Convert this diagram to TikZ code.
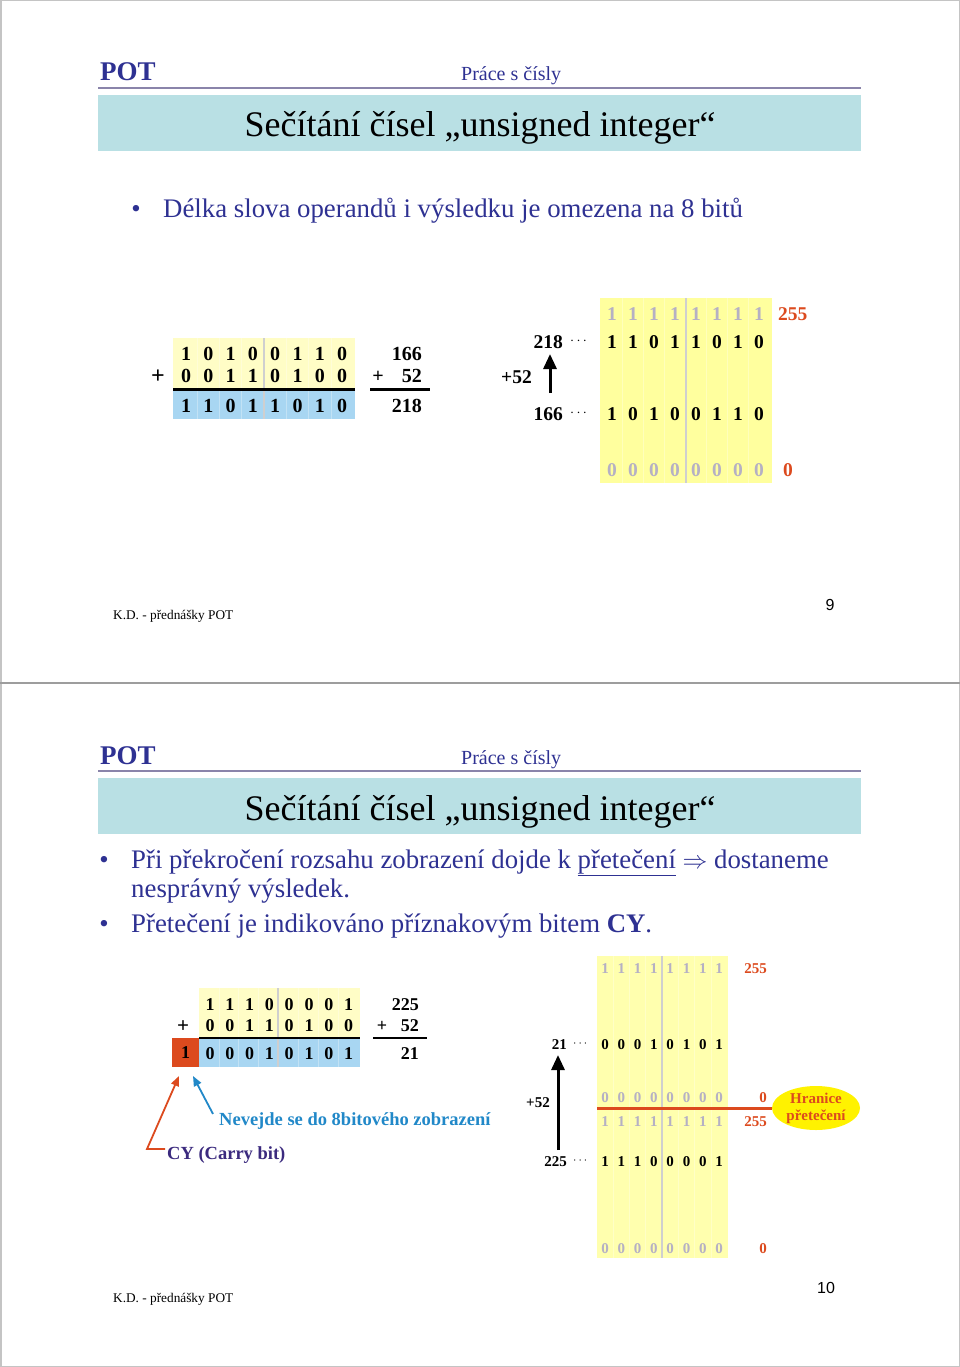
\documentclass[tikz,border=0pt]{standalone}
\usepackage{fontspec}
\setmainfont{Liberation Serif}
\newfontfamily\pagefont{Liberation Sans}
\usepackage{xcolor}
\usepackage{tikz}
\usetikzlibrary{arrows.meta, positioning, shapes.geometric}

\definecolor{potblue}{HTML}{2E3192}
\definecolor{bandteal}{HTML}{B9E0E4}
\definecolor{rulepurple}{HTML}{8A84AA}
\definecolor{paleyellow}{HTML}{FFFDC6}
\definecolor{bandyellow}{HTML}{FFFF9E}
\definecolor{lightyellow}{HTML}{FFFFAE}
\definecolor{paleblue}{HTML}{A8D6F2}
\definecolor{overred}{HTML}{DC4A1E}
\definecolor{carryblue}{HTML}{2188C8}
\definecolor{cyviolet}{HTML}{3B2A7E}
\definecolor{bitgray}{HTML}{B5B0C4}
\definecolor{divgray}{HTML}{CFCFCF}
\definecolor{framegray}{HTML}{C4C4C4}
\definecolor{ovalyellow}{HTML}{FFF200}

\begin{document}
\begin{tikzpicture}[x=1pt, y=-1pt,
    txt/.style={inner sep=0pt, anchor=base west},
    pot/.style={txt, font=\fontsize{27}{30}\selectfont\bfseries, text=potblue},
    topic/.style={txt, font=\fontsize{20}{24}\selectfont, text=potblue},
    heading/.style={inner sep=0pt, anchor=base, font=\fontsize{36}{40}\selectfont},
    item/.style={txt, font=\fontsize{26.8}{30}\selectfont, text=potblue},
    bullet/.style={inner sep=0pt, anchor=base, font=\fontsize{26.8}{30}\selectfont, text=potblue},
    footer/.style={txt, font=\fontsize{13.3}{15}\selectfont},
    pageno/.style={inner sep=0pt, anchor=base, font=\pagefont\fontsize{16}{18}\selectfont},
    bitL/.style={inner sep=0pt, anchor=base, font=\fontsize{20}{22}\selectfont\bfseries},
    bitR/.style={inner sep=0pt, anchor=base, font=\fontsize{19.5}{22}\selectfont\bfseries},
    bitC/.style={inner sep=0pt, anchor=base, font=\fontsize{18}{20}\selectfont\bfseries},
    bitS/.style={inner sep=0pt, anchor=base, font=\fontsize{15}{17}\selectfont\bfseries},
    dots/.style={inner sep=0pt, anchor=base west, font=\fontsize{15}{15}\selectfont},
    ghost/.style={text=bitgray},
    limit/.style={text=overred},
    sumrule/.style={line width=2.5pt},
    divider/.style={draw=divgray, line width=1.5pt},
    stripe/.style={draw=white, opacity=0.3, line width=0.8pt},
    bigarrow/.style={-{Triangle[length=15pt,width=13pt]}, line width=3pt},
    redarrow/.style={-{Triangle[length=10pt,width=8pt]}, line width=1.8pt, draw=overred},
    bluearrow/.style={-{Triangle[length=10pt,width=8pt]}, line width=1.8pt, draw=carryblue},
    oval/.style={ellipse, fill=ovalyellow, minimum width=88pt, minimum height=44pt, inner sep=0pt,
                 align=center, text=overred, font=\fontsize{15}{17}\selectfont\bfseries}
]
\useasboundingbox (0,0) rectangle (960,1367);
\draw[framegray, line width=1.5pt] (0.75,0.75) rectangle (959.25,1366.25);
\draw[framegray!80!black, line width=2pt] (0,683) -- (960,683);

% Slide 9
\node[pot] (pot1) at (100,81) {POT};
\node[topic] (topic1) at (461,81) {Práce s čísly};
\draw[rulepurple, line width=2pt] (98,88) -- (861,88);
\fill[bandteal] (98,95) rectangle (861,151);
\node[heading] (title1) at (480,137) {Sečítání čísel „unsigned integer“};
\node[bullet] (b1) at (136,217) {•};
\node[item] (item1) at (163,217) {Délka slova operandů i výsledku je omezena na 8 bitů};

% column addition
\fill[paleyellow] (173,338) rectangle (355,389);
\fill[paleblue] (173,389) rectangle (355,419);
\foreach \x in {197.2,219.5,241.8,286.4,308.7,331} \draw[stripe] (\x,338) -- (\x,419);
\draw[divider] (264,338) -- (264,419);
\draw[sumrule] (173,389.5) -- (355,389.5);
\foreach \bitv [count=\i] in {1,0,1,0,0,1,1,0}
  \node[bitL] (la\i) at ({186+22.3*(\i-1)},360) {\bitv};
\foreach \bitv [count=\i] in {0,0,1,1,0,1,0,0}
  \node[bitL] (lb\i) at ({186+22.3*(\i-1)},382) {\bitv};
\foreach \bitv [count=\i] in {1,1,0,1,1,0,1,0}
  \node[bitL] (lc\i) at ({186+22.3*(\i-1)},412) {\bitv};
\node[bitL, font=\fontsize{24}{24}\selectfont\bfseries] (lplus) at (158,383) {+};
\node[bitL, anchor=base east] (d166) at (422,360) {166};
\node[bitL] (dplus) at (378,382) {+};
\node[bitL, anchor=base east] (d52) at (422,382) {52};
\draw[sumrule] (370,389.5) -- (430,389.5);
\node[bitL, anchor=base east] (d218) at (422,412) {218};

% number range
\fill[bandyellow] (600,298) rectangle (772,483);
\foreach \x in {622.5,643.5,664.5,706.5,727.5,748.5} \draw[stripe] (\x,298) -- (\x,483);
\draw[divider] (686,298) -- (686,483);
\foreach \bitv [count=\i] in {1,1,1,1,1,1,1,1}
  \node[bitR, ghost] (ra\i) at ({612+21*(\i-1)},320) {\bitv};
\foreach \bitv [count=\i] in {1,1,0,1,1,0,1,0}
  \node[bitR] (rb\i) at ({612+21*(\i-1)},348) {\bitv};
\foreach \bitv [count=\i] in {1,0,1,0,0,1,1,0}
  \node[bitR] (rc\i) at ({612+21*(\i-1)},420) {\bitv};
\foreach \bitv [count=\i] in {0,0,0,0,0,0,0,0}
  \node[bitR, ghost] (rd\i) at ({612+21*(\i-1)},476) {\bitv};
\node[bitR, limit, anchor=base west] (max1) at (778,320) {255};
\node[bitR, limit] (min1) at (788,476) {0};
\node[bitR, anchor=base east] (v218) at (563,348) {218};
\node[dots] (p218) at (570,344) {$\cdots$};
\node[bitR, anchor=base east] (v166) at (563,420) {166};
\node[dots] (p166) at (570,416) {$\cdots$};
\coordinate (up0) at (550,393);
\coordinate (up1) at (550,354);
\draw[bigarrow] (up0) -- (up1);
\node[bitR, anchor=base west] (add1) at (501,383) {+52};

\node[footer] (foot1) at (113,619) {K.D. - přednášky POT};
\node[pageno] (pg1) at (830,610) {9};

% Slide 10
\node[pot] (pot2) at (100,764) {POT};
\node[topic] (topic2) at (461,764) {Práce s čísly};
\draw[rulepurple, line width=2pt] (98,771) -- (861,771);
\fill[bandteal] (98,778) rectangle (861,834);
\node[heading] (title2) at (480,820) {Sečítání čísel „unsigned integer“};
\node[bullet] (b2) at (104,868) {•};
\node[item] (item2) at (131,868) {Při překročení rozsahu zobrazení dojde k \underline{přetečení} $\Rightarrow$ dostaneme};
\node[item] (item2b) at (131,897) {nesprávný výsledek.};
\node[bullet] (b3) at (104,932) {•};
\node[item] (item3) at (131,932) {Přetečení je indikováno příznakovým bitem \textbf{CY}.};

% addition with carry
\fill[paleyellow] (199,988) rectangle (360,1038);
\fill[paleblue] (199,1038) rectangle (360,1067);
\foreach \x in {219.7,238.8,258.3,298.6,318.3,338.6} \draw[stripe] (\x,988) -- (\x,1067);
\draw[divider] (278,988) -- (278,1067);
\draw[sumrule] (199,1038) -- (360,1038);
\foreach \bitv [count=\i] in {1,1,1,0,0,0,0,1}
  \node[bitC] (ca\i) at ({210+19.8*(\i-1)},1010) {\bitv};
\foreach \bitv [count=\i] in {0,0,1,1,0,1,0,0}
  \node[bitC] (cb\i) at ({210+19.8*(\i-1)},1031) {\bitv};
\foreach \bitv [count=\i] in {0,0,0,1,0,1,0,1}
  \node[bitC] (cc\i) at ({210+19.8*(\i-1)},1059) {\bitv};
\node[bitC, anchor=center, fill=overred, minimum width=27pt, minimum height=29pt] (carry) at (185.5,1052.5) {1};
\node[bitC, font=\fontsize{21}{21}\selectfont\bfseries] (cplus) at (183,1032) {+};
\node[bitC, anchor=base east] (d225) at (419,1010) {225};
\node[bitC] (eplus) at (382,1031) {+};
\node[bitC, anchor=base east] (e52) at (419,1031) {52};
\draw[sumrule] (373,1038) -- (427,1038);
\node[bitC, anchor=base east] (d21) at (419,1059) {21};

\node[txt, font=\fontsize{18.5}{20}\selectfont\bfseries, text=carryblue] (nofit) at (219,1125) {Nevejde se do 8bitového zobrazení};
\node[txt, font=\fontsize{18.5}{20}\selectfont\bfseries, text=cyviolet] (cy) at (167,1159) {CY (Carry bit)};
\coordinate (cyk) at (147,1149);
\coordinate (cyt) at (179,1076);
\draw[redarrow] ([xshift=-2pt]cy.west |- cyk) -- (cyk) -- (cyt);
\coordinate (nft) at (193,1076);
\draw[bluearrow] ([xshift=-6pt, yshift=-2pt]nofit.north west) -- (nft);

% overflow range
\fill[lightyellow] (597,956) rectangle (728,1258);
\foreach \x in {613.2,629.5,645.8,678.4,694.7,711} \draw[stripe] (\x,956) -- (\x,1258);
\draw[divider] (662,956) -- (662,1258);
\foreach \bitv [count=\i] in {1,1,1,1,1,1,1,1}
  \node[bitS, ghost] (sa\i) at ({605+16.3*(\i-1)},973) {\bitv};
\foreach \bitv [count=\i] in {0,0,0,1,0,1,0,1}
  \node[bitS] (sb\i) at ({605+16.3*(\i-1)},1049) {\bitv};
\foreach \bitv [count=\i] in {0,0,0,0,0,0,0,0}
  \node[bitS, ghost] (sc\i) at ({605+16.3*(\i-1)},1102) {\bitv};
\foreach \bitv [count=\i] in {1,1,1,1,1,1,1,1}
  \node[bitS, ghost] (sd\i) at ({605+16.3*(\i-1)},1126) {\bitv};
\foreach \bitv [count=\i] in {1,1,1,0,0,0,0,1}
  \node[bitS] (se\i) at ({605+16.3*(\i-1)},1166) {\bitv};
\foreach \bitv [count=\i] in {0,0,0,0,0,0,0,0}
  \node[bitS, ghost] (sf\i) at ({605+16.3*(\i-1)},1253) {\bitv};
\node[bitS, limit, anchor=base east] (max2) at (767,973) {255};
\node[bitS, limit, anchor=base east] (min2) at (767,1102) {0};
\node[bitS, limit, anchor=base east] (max3) at (767,1126) {255};
\node[bitS, limit, anchor=base east] (min3) at (767,1253) {0};
\node[oval] (hr) at (816,1108) {Hranice\\přetečení};
\coordinate (hl) at (597,1108);
\draw[overred, line width=3pt] (hl) -- (hr.west);
\node[bitS, anchor=base east] (v21) at (567,1049) {21};
\node[dots, font=\fontsize{12}{12}\selectfont] (p21) at (573,1046) {$\cdots$};
\node[bitS, anchor=base east] (v225) at (567,1166) {225};
\node[dots, font=\fontsize{12}{12}\selectfont] (p225) at (573,1163) {$\cdots$};
\coordinate (up2) at (558,1150);
\coordinate (up3) at (558,1055);
\draw[bigarrow] (up2) -- (up3);
\node[bitS, anchor=base west] (add2) at (526,1107) {+52};

\node[footer] (foot2) at (113,1302) {K.D. - přednášky POT};
\node[pageno] (pg2) at (826,1293) {10};
\end{tikzpicture}
\end{document}
